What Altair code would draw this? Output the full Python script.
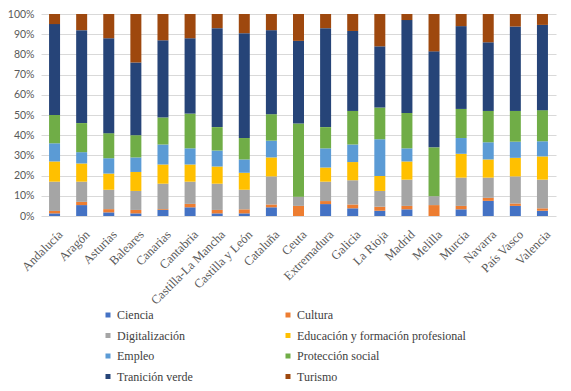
import altair as alt
import pandas as pd

regions = ["Andalucía", "Aragón", "Asturias", "Baleares", "Canarias", "Cantabria",
           "Castilla-La Mancha", "Castilla y León", "Cataluña", "Ceuta", "Extremadura",
           "Galicia", "La Rioja", "Madrid", "Melilla", "Murcia", "Navarra", "País Vasco",
           "Valencia"]

categories = ["Ciencia", "Cultura", "Digitalización", "Educación y formación profesional",
              "Empleo", "Protección social", "Tranición verde", "Turismo"]

colors = ["#4472C4", "#ED7D31", "#A5A5A5", "#FFC000", "#5B9BD5", "#70AD47", "#264478", "#9E480E"]

ciencia      = [1.3, 5.4, 1.8, 1.3, 3.0, 4.3, 1.3, 1.3, 4.3, 0.0, 5.9, 3.8, 2.6, 3.3, 0.0, 3.3, 7.5, 5.0, 2.6]
cultura      = [1.2, 1.6, 1.6, 1.7, 0.4, 1.7, 1.7, 2.0, 1.4, 5.0, 1.5, 1.9, 2.0, 1.7, 5.4, 1.7, 1.5, 1.2, 1.2]
digital      = [14.5, 10.0, 9.6, 9.4, 12.6, 11.0, 13.0, 9.7, 13.9, 4.5, 9.6, 12.0, 7.8, 13.0, 4.4, 14.0, 10.0, 13.4, 14.2]
educacion    = [10.0, 9.0, 8.0, 9.4, 9.5, 8.5, 8.5, 8.4, 9.4, 0.0, 7.0, 9.0, 7.4, 9.0, 0.0, 11.8, 9.0, 9.2, 11.5]
empleo       = [9.0, 5.6, 7.6, 7.2, 9.9, 8.0, 7.9, 6.6, 8.3, 0.0, 9.5, 8.7, 18.2, 6.5, 0.0, 7.8, 8.5, 8.0, 7.5]
proteccion   = [14.0, 14.4, 12.4, 11.0, 13.4, 17.2, 11.6, 10.6, 13.1, 36.3, 10.5, 16.6, 15.7, 17.5, 24.2, 14.4, 15.5, 15.2, 15.4]
transicion   = [45.0, 46.0, 47.0, 36.0, 38.2, 37.3, 49.0, 51.9, 41.6, 40.9, 49.0, 39.6, 30.3, 46.0, 47.5, 41.0, 34.0, 41.8, 42.2]
turismo      = [5.0, 8.0, 12.0, 24.0, 13.0, 12.0, 7.0, 9.5, 8.0, 13.3, 7.0, 8.4, 16.0, 3.0, 18.5, 6.0, 14.0, 6.2, 5.4]

series = [ciencia, cultura, digital, educacion, empleo, proteccion, transicion, turismo]

rows = []
for ci, (cat, vals) in enumerate(zip(categories, series)):
    for r, v in zip(regions, vals):
        rows.append({"Región": r, "Categoría": cat, "valor": v, "orden": ci})
df = pd.DataFrame(rows)

serif = "Liberation Serif"
sans = "Lato"

chart = alt.Chart(df).mark_bar(size=11).encode(
    x=alt.X("Región:N", sort=regions, title=None,
            axis=alt.Axis(labelAngle=-45, labelFont=serif, labelFontSize=12.5,
                          labelColor="#595959", domain=False, ticks=False,
                          labelBaseline="middle", labelAlign="right",
                          labelPadding=16, labelOffset=6)),
    y=alt.Y("valor:Q", stack="normalize", title=None,
            scale=alt.Scale(domain=[0, 1]),
            axis=alt.Axis(format="%", values=[i / 10 for i in range(11)],
                          labelOverlap=False,
                          labelFont=sans, labelFontSize=10.5, labelColor="#595959",
                          domain=False, ticks=False, gridColor="#D9D9D9", labelPadding=7)),
    color=alt.Color("Categoría:N", sort=categories,
                    scale=alt.Scale(domain=categories, range=colors),
                    legend=alt.Legend(title=None, orient="none", legendX=61, legendY=295,
                                      columns=2, direction="horizontal", symbolType="square",
                                      symbolSize=25, symbolStrokeWidth=0,
                                      labelFont=serif, labelFontSize=12, labelOffset=3,
                                      labelColor="#404040", columnPadding=89,
                                      rowPadding=8.5, labelLimit=300)),
    order=alt.Order("orden:Q", sort="ascending"),
).properties(
    width=515, height=202,
    autosize=alt.AutoSizeParams(type="none"),
    padding={"left": 33, "top": 6, "right": 7, "bottom": 167},
).configure_view(stroke=None).configure_legend(labelFont=serif)

chart.save("out.html", embed_options={"renderer": "svg", "actions": False})
